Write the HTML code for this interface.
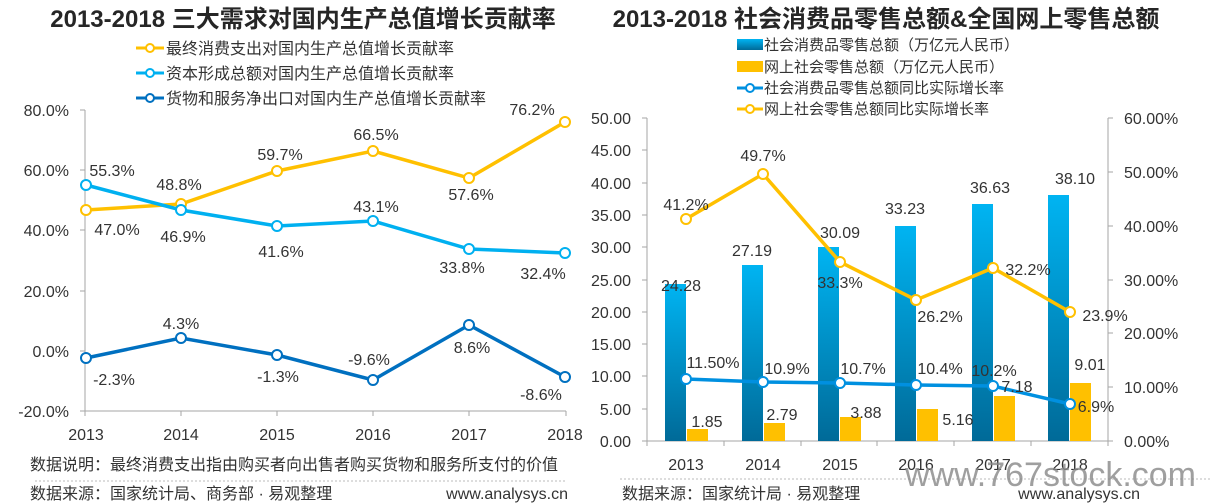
<!DOCTYPE html>
<html><head><meta charset="utf-8"><style>
html,body{margin:0;padding:0;background:#fff;}
svg{display:block;font-family:"Liberation Sans","Noto Sans CJK SC",sans-serif;}
</style></head><body>
<svg width="1228" height="503" viewBox="0 0 1228 503" xmlns="http://www.w3.org/2000/svg">
<defs>
<linearGradient id="bg" x1="0" y1="0" x2="0" y2="1">
<stop offset="0" stop-color="#00b4f2"/><stop offset="1" stop-color="#006a98"/>
</linearGradient>
</defs>
<text x="303" y="27" font-size="24" font-weight="bold" fill="#262626" text-anchor="middle">2013-2018 三大需求对国内生产总值增长贡献率</text>
<text x="886" y="27" font-size="24" font-weight="bold" fill="#262626" text-anchor="middle">2013-2018 社会消费品零售总额&amp;全国网上零售总额</text>

<g font-size="16" fill="#333">
<line x1="136" y1="48" x2="164" y2="48" stroke="#ffc000" stroke-width="3"/><circle cx="150" cy="48" r="4" fill="#fff" stroke="#ffc000" stroke-width="2"/>
<text x="166" y="54">最终消费支出对国内生产总值增长贡献率</text>
<line x1="136" y1="73" x2="164" y2="73" stroke="#00b0f0" stroke-width="3"/><circle cx="150" cy="73" r="4" fill="#fff" stroke="#00b0f0" stroke-width="2"/>
<text x="166" y="79">资本形成总额对国内生产总值增长贡献率</text>
<line x1="136" y1="98" x2="164" y2="98" stroke="#0070c0" stroke-width="3"/><circle cx="150" cy="98" r="4" fill="#fff" stroke="#0070c0" stroke-width="2"/>
<text x="166" y="104">货物和服务净出口对国内生产总值增长贡献率</text>
</g>

<g stroke="#a6a6a6" stroke-width="1">
<line x1="85" y1="110" x2="85" y2="411"/>
<line x1="80" y1="110" x2="85" y2="110"/><line x1="80" y1="170" x2="85" y2="170"/><line x1="80" y1="230" x2="85" y2="230"/><line x1="80" y1="291" x2="85" y2="291"/><line x1="80" y1="351" x2="85" y2="351"/><line x1="80" y1="411" x2="85" y2="411"/>
<line x1="85" y1="411" x2="566" y2="411"/>
<line x1="85" y1="411" x2="85" y2="416"/><line x1="181" y1="411" x2="181" y2="416"/><line x1="277" y1="411" x2="277" y2="416"/><line x1="373" y1="411" x2="373" y2="416"/><line x1="469" y1="411" x2="469" y2="416"/><line x1="566" y1="411" x2="566" y2="416"/>
</g>
<g font-size="16" fill="#333" text-anchor="end">
<text x="69" y="116">80.0%</text><text x="69" y="176">60.0%</text><text x="69" y="236">40.0%</text><text x="69" y="297">20.0%</text><text x="69" y="357">0.0%</text><text x="69" y="417">-20.0%</text>
</g>
<g font-size="16" fill="#333" text-anchor="middle">
<text x="86" y="440">2013</text><text x="181" y="440">2014</text><text x="277" y="440">2015</text><text x="373" y="440">2016</text><text x="469" y="440">2017</text><text x="565" y="440">2018</text>
</g>
<g fill="#fff" stroke-width="3.5">
<polyline fill="none" stroke="#ffc000" points="86,210 181,204 277,171 373,151 469,178 565,122"/>
<polyline fill="none" stroke="#00b0f0" points="86,185 181,210 277,226 373,221 469,249 565,253"/>
<polyline fill="none" stroke="#0070c0" points="86,358 181,338 277,355 373,380 469,325 565,377"/>
<g stroke="#ffc000" stroke-width="2"><circle cx="86" cy="210" r="5"/><circle cx="181" cy="204" r="5"/><circle cx="277" cy="171" r="5"/><circle cx="373" cy="151" r="5"/><circle cx="469" cy="178" r="5"/><circle cx="565" cy="122" r="5"/></g>
<g stroke="#00b0f0" stroke-width="2"><circle cx="86" cy="185" r="5"/><circle cx="181" cy="210" r="5"/><circle cx="277" cy="226" r="5"/><circle cx="373" cy="221" r="5"/><circle cx="469" cy="249" r="5"/><circle cx="565" cy="253" r="5"/></g>
<g stroke="#0070c0" stroke-width="2"><circle cx="86" cy="358" r="5"/><circle cx="181" cy="338" r="5"/><circle cx="277" cy="355" r="5"/><circle cx="373" cy="380" r="5"/><circle cx="469" cy="325" r="5"/><circle cx="565" cy="377" r="5"/></g>
</g>
<g font-size="16" fill="#333" text-anchor="middle">
<text x="117" y="235">47.0%</text><text x="179" y="190">48.8%</text><text x="280" y="160">59.7%</text><text x="376" y="140">66.5%</text><text x="471" y="200">57.6%</text><text x="532" y="115">76.2%</text>
<text x="112" y="176">55.3%</text><text x="183" y="242">46.9%</text><text x="281" y="257">41.6%</text><text x="376" y="212">43.1%</text><text x="462" y="273">33.8%</text><text x="543" y="279">32.4%</text>
<text x="114" y="385">-2.3%</text><text x="181" y="329">4.3%</text><text x="278" y="382">-1.3%</text><text x="369" y="365">-9.6%</text><text x="472" y="353">8.6%</text><text x="541" y="400">-8.6%</text>
</g>
<g font-size="16" fill="#333">
<text x="30" y="470">数据说明：最终消费支出指由购买者向出售者购买货物和服务所支付的价值</text>
<line x1="35" y1="481" x2="565" y2="481" stroke="#bbb" stroke-dasharray="2,2"/>
<text x="30" y="499">数据来源：国家统计局、商务部 · 易观整理</text>
<text x="568" y="499" text-anchor="end">www.analysys.cn</text>
</g>

<g font-size="15" fill="#333">
<rect x="737" y="39" width="26" height="11" fill="url(#bg)"/><text x="764" y="50">社会消费品零售总额（万亿元人民币）</text>
<rect x="737" y="61" width="26" height="11" fill="#ffc000"/><text x="764" y="72">网上社会零售总额（万亿元人民币）</text>
<line x1="737" y1="88" x2="763" y2="88" stroke="#0090e0" stroke-width="3"/><circle cx="750" cy="88" r="4" fill="#fff" stroke="#0090e0" stroke-width="2"/><text x="764" y="93">社会消费品零售总额同比实际增长率</text>
<line x1="737" y1="109" x2="763" y2="109" stroke="#ffc000" stroke-width="3"/><circle cx="750" cy="109" r="4" fill="#fff" stroke="#ffc000" stroke-width="2"/><text x="764" y="114">网上社会零售总额同比实际增长率</text>
</g>
<g stroke="#a6a6a6" stroke-width="1">
<line x1="647" y1="118" x2="647" y2="441"/>
<line x1="1108" y1="118" x2="1108" y2="441"/>
<line x1="647" y1="441" x2="1108" y2="441"/>
<line x1="642" y1="118" x2="647" y2="118"/><line x1="642" y1="150" x2="647" y2="150"/><line x1="642" y1="183" x2="647" y2="183"/><line x1="642" y1="215" x2="647" y2="215"/><line x1="642" y1="247" x2="647" y2="247"/><line x1="642" y1="280" x2="647" y2="280"/><line x1="642" y1="312" x2="647" y2="312"/><line x1="642" y1="344" x2="647" y2="344"/><line x1="642" y1="376" x2="647" y2="376"/><line x1="642" y1="409" x2="647" y2="409"/><line x1="642" y1="441" x2="647" y2="441"/>
<line x1="1108" y1="118" x2="1113" y2="118"/><line x1="1108" y1="172" x2="1113" y2="172"/><line x1="1108" y1="226" x2="1113" y2="226"/><line x1="1108" y1="280" x2="1113" y2="280"/><line x1="1108" y1="333" x2="1113" y2="333"/><line x1="1108" y1="387" x2="1113" y2="387"/><line x1="1108" y1="441" x2="1113" y2="441"/>
<line x1="647" y1="441" x2="647" y2="446"/><line x1="724" y1="441" x2="724" y2="446"/><line x1="801" y1="441" x2="801" y2="446"/><line x1="877" y1="441" x2="877" y2="446"/><line x1="954" y1="441" x2="954" y2="446"/><line x1="1031" y1="441" x2="1031" y2="446"/><line x1="1108" y1="441" x2="1108" y2="446"/>
</g>
<g font-size="16" fill="#333" text-anchor="end">
<text x="631" y="124">50.00</text><text x="631" y="156">45.00</text><text x="631" y="189">40.00</text><text x="631" y="221">35.00</text><text x="631" y="253">30.00</text><text x="631" y="286">25.00</text><text x="631" y="318">20.00</text><text x="631" y="350">15.00</text><text x="631" y="382">10.00</text><text x="631" y="415">5.00</text><text x="631" y="447">0.00</text>
</g>
<g font-size="16" fill="#333">
<text x="1124" y="124">60.00%</text><text x="1124" y="178">50.00%</text><text x="1124" y="232">40.00%</text><text x="1124" y="286">30.00%</text><text x="1124" y="339">20.00%</text><text x="1124" y="393">10.00%</text><text x="1124" y="447">0.00%</text>
</g>
<g font-size="16" fill="#333" text-anchor="middle">
<text x="686" y="470">2013</text><text x="763" y="470">2014</text><text x="840" y="470">2015</text><text x="916" y="470">2016</text><text x="993" y="470">2017</text><text x="1070" y="470">2018</text>
</g>
<g fill="url(#bg)">
<rect x="665" y="284" width="21" height="157"/>
<rect x="742" y="265" width="21" height="176"/>
<rect x="818" y="247" width="21" height="194"/>
<rect x="895" y="226" width="21" height="215"/>
<rect x="972" y="204" width="21" height="237"/>
<rect x="1048" y="195" width="21" height="246"/>
</g>
<g fill="#ffc000">
<rect x="687" y="429" width="21" height="12"/>
<rect x="764" y="423" width="21" height="18"/>
<rect x="840" y="417" width="21" height="24"/>
<rect x="917" y="409" width="21" height="32"/>
<rect x="994" y="396" width="21" height="45"/>
<rect x="1070" y="383" width="21" height="58"/>
</g>
<g fill="#fff">
<polyline fill="none" stroke="#ffc000" stroke-width="3.5" points="686,219 763,174 840,262 916,300 993,268 1070,312"/>
<polyline fill="none" stroke="#0090e0" stroke-width="3.5" points="686,379 763,382 840,383 916,385 993,386 1070,404"/>
<g stroke="#ffc000" stroke-width="2"><circle cx="686" cy="219" r="5"/><circle cx="763" cy="174" r="5"/><circle cx="840" cy="262" r="5"/><circle cx="916" cy="300" r="5"/><circle cx="993" cy="268" r="5"/><circle cx="1070" cy="312" r="5"/></g>
<g stroke="#0090e0" stroke-width="2"><circle cx="686" cy="379" r="5"/><circle cx="763" cy="382" r="5"/><circle cx="840" cy="383" r="5"/><circle cx="916" cy="385" r="5"/><circle cx="993" cy="386" r="5"/><circle cx="1070" cy="404" r="5"/></g>
</g>
<g font-size="16" fill="#333" text-anchor="middle">
<text x="681" y="291">24.28</text><text x="752" y="256">27.19</text><text x="840" y="238">30.09</text><text x="905" y="214">33.23</text><text x="990" y="193">36.63</text><text x="1075" y="184">38.10</text>
<text x="707" y="427">1.85</text><text x="782" y="420">2.79</text><text x="866" y="418">3.88</text><text x="958" y="425">5.16</text><text x="1017" y="392">7.18</text><text x="1090" y="370">9.01</text>
<text x="713" y="368">11.50%</text><text x="787" y="374">10.9%</text><text x="863" y="374">10.7%</text><text x="940" y="374">10.4%</text><text x="994" y="376">10.2%</text><text x="1096" y="412">6.9%</text>
<text x="686" y="210">41.2%</text><text x="763" y="161">49.7%</text><text x="840" y="288">33.3%</text><text x="940" y="322">26.2%</text><text x="1028" y="275">32.2%</text><text x="1105" y="321">23.9%</text>
</g>
<line x1="620" y1="479" x2="1210" y2="479" stroke="#bbb" stroke-dasharray="2,2"/>
<text x="905" y="486" font-size="34" fill="#888" opacity="0.8">www.767stock.com</text>
<g font-size="16" fill="#333">
<text x="622" y="499">数据来源：国家统计局 · 易观整理</text>
<text x="1140" y="499" text-anchor="end">www.analysys.cn</text>
</g>
</svg>
</body></html>
